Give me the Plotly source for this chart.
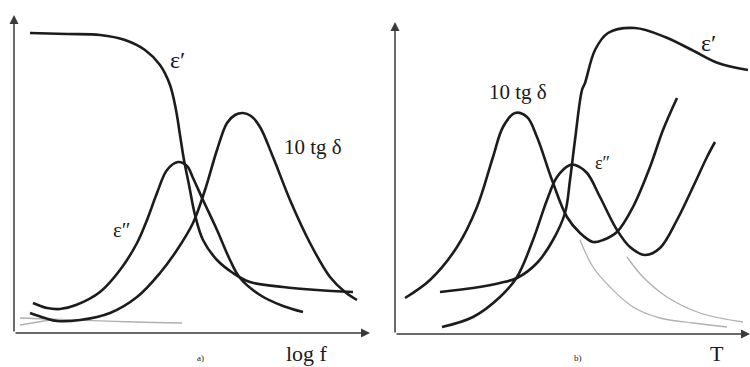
import plotly.graph_objects as go

# Panel a) : x = log f (arbitrary units), y = value (arbitrary units)
a_eps1_x = [16, 53, 86, 111, 131, 146, 156, 162, 166, 170, 175, 181, 189, 203, 219, 236, 269, 303, 339]
a_eps1_y = [300, 299, 298, 293, 283, 268, 248, 223, 198, 173, 148, 118, 93, 73, 60, 51, 46, 43, 41]
a_eps2_x = [19, 33, 46, 62, 86, 106, 123, 133, 143, 153, 164, 173, 179, 189, 203, 216, 226, 246, 269, 289]
a_eps2_y = [30, 25, 24, 28, 41, 63, 90, 113, 140, 163, 171, 167, 155, 133, 103, 73, 55, 38, 27, 21]
a_tg_x = [16, 31, 43, 66, 96, 123, 146, 163, 179, 191, 203, 213, 221, 229, 237, 246, 259, 276, 296, 316, 331, 343]
a_tg_y = [20, 15, 12, 13, 20, 36, 60, 83, 110, 143, 183, 210, 218, 220, 217, 206, 176, 133, 90, 56, 41, 33]
a_grey1_x = [6, 60, 120, 168]
a_grey1_y = [15, 13, 11, 10]
a_grey2_x = [6, 36]
a_grey2_y = [8, 13]

# Panel b) : x = T (arbitrary units)
b_tg_x = [10, 35, 62, 82, 98, 108, 120, 132, 142, 157, 172, 185, 198, 208, 222, 238, 255, 268, 282]
b_tg_y = [36, 54, 87, 127, 177, 207, 221, 217, 197, 154, 117, 101, 92, 94, 102, 127, 167, 204, 236]
b_eps2_x = [47, 78, 105, 122, 138, 152, 162, 175, 180, 192, 205, 222, 235, 250, 265, 282, 298, 312, 320]
b_eps2_y = [7, 17, 37, 57, 94, 134, 157, 169, 169, 161, 137, 104, 87, 79, 86, 114, 147, 177, 192]
b_eps1_x = [45, 78, 105, 122, 142, 158, 170, 175, 180, 187, 190, 200, 213, 240, 270, 297, 323, 353]
b_eps1_y = [42, 46, 51, 56, 71, 94, 121, 154, 194, 244, 251, 284, 301, 306, 297, 284, 271, 264]
b_grey1_x = [185, 198, 215, 238, 265, 298, 332]
b_grey1_y = [94, 67, 47, 27, 16, 11, 7]
b_grey2_x = [232, 248, 272, 305, 348]
b_grey2_y = [77, 57, 37, 21, 12]

DARK = "#1c1c1c"
GREY = "#b0b0b0"
FONT = "Liberation Serif"

fig = go.Figure()

def curve(x, y, xa, ya, color=DARK, width=2.6):
    fig.add_trace(go.Scatter(x=x, y=y, xaxis=xa, yaxis=ya, mode="lines",
                             line=dict(color=color, width=width, shape="spline", smoothing=1.0),
                             hoverinfo="skip", showlegend=False))

curve(a_grey1_x, a_grey1_y, "x", "y", GREY, 1.3)
curve(a_grey2_x, a_grey2_y, "x", "y", GREY, 1.3)
curve(a_eps1_x, a_eps1_y, "x", "y")
curve(a_eps2_x, a_eps2_y, "x", "y")
curve(a_tg_x, a_tg_y, "x", "y")

curve(b_grey1_x, b_grey1_y, "x2", "y2", GREY, 1.3)
curve(b_grey2_x, b_grey2_y, "x2", "y2", GREY, 1.3)
curve(b_tg_x, b_tg_y, "x2", "y2")
curve(b_eps2_x, b_eps2_y, "x2", "y2")
curve(b_eps1_x, b_eps1_y, "x2", "y2")

ax_common = dict(showgrid=False, zeroline=False, showticklabels=False, ticks="", showline=False)

fig.update_layout(
    width=750, height=367,
    margin=dict(l=0, r=0, t=0, b=0),
    paper_bgcolor="white", plot_bgcolor="white",
    xaxis=dict(domain=[14/750, 370/750], range=[0, 356], anchor="y", **ax_common),
    yaxis=dict(domain=[34/367, 352/367], range=[0, 318], anchor="x", **ax_common),
    xaxis2=dict(domain=[395/750, 1.0], range=[0, 355], anchor="y2", **ax_common),
    yaxis2=dict(domain=[33/367, 345/367], range=[0, 312], anchor="x2", **ax_common),
)

annots = []
# axis arrows
for xr, yr, xe, ye in [("x", "y", 356, 0), ("x", "y", 0, 318), ("x2", "y2", 355, 0), ("x2", "y2", 0, 312)]:
    annots.append(dict(x=xe, y=ye, ax=0, ay=0, xref=xr, yref=yr, axref=xr, ayref=yr,
                       showarrow=True, arrowhead=2, arrowsize=1.2, arrowwidth=1.5,
                       arrowcolor="#3a3a3a", text=""))

labels = [
    ("x", "y", 163, 273, "ε′", 24),
    ("x", "y", 299, 186, "10 tg δ", 21),
    ("x", "y", 108, 103, "ε″", 21),
    ("x2", "y2", 123, 242, "10 tg δ", 21),
    ("x2", "y2", 313, 291, "ε′", 24),
    ("x2", "y2", 207, 171, "ε″", 18),
]
for xr, yr, x, y, t, s in labels:
    annots.append(dict(x=x, y=y, xref=xr, yref=yr, text=t, showarrow=False,
                       font=dict(family=FONT, size=s, color="#1a1a1a")))

# axis captions below the plot areas (paper coordinates)
captions = [
    (0.267, 0.008, "a)", 9),
    (0.409, 0.0, "log f", 22),
    (0.771, 0.008, "b)", 9),
    (0.956, 0.0, "T", 22),
]
for x, y, t, s in captions:
    annots.append(dict(x=x, y=y, xref="paper", yref="paper", text=t, showarrow=False,
                       xanchor="center", yanchor="bottom", borderpad=0,
                       font=dict(family=FONT, size=s, color="#1a1a1a")))

fig.update_layout(annotations=annots)
fig.write_html("out.html")
